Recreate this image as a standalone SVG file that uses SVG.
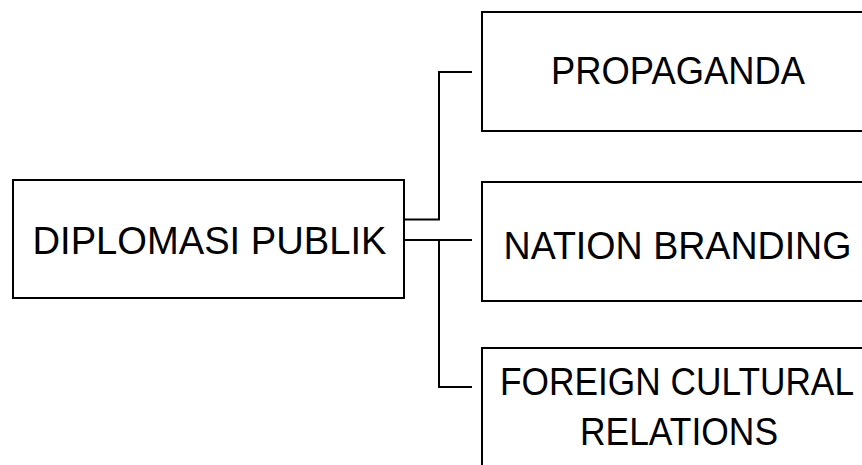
<svg xmlns="http://www.w3.org/2000/svg" width="862" height="465" viewBox="0 0 862 465">
<style>
.box{fill:#ffffff;stroke:#000000;stroke-width:2}
.lbl{font-family:"Liberation Sans",Arial,sans-serif;font-size:38px;fill:#000000;text-anchor:middle}
.con{fill:none;stroke:#000000;stroke-width:2}
</style>
<rect width="862" height="465" fill="#ffffff"/>
<g id="connectors">
<path class="con" d="M404 219.5 H439 V72 H472"/>
<path class="con" d="M404 240 H472"/>
<path class="con" d="M439 240 V387 H472"/>
</g>
<g id="node-diplomasi">
<rect class="box" x="13" y="180" width="391" height="118"/>
<text class="lbl" x="209.5" y="254" textLength="354" lengthAdjust="spacingAndGlyphs">DIPLOMASI PUBLIK</text>
</g>
<g id="node-propaganda">
<rect class="box" x="482" y="12" width="392" height="119"/>
<text class="lbl" x="678" y="84" textLength="254" lengthAdjust="spacingAndGlyphs">PROPAGANDA</text>
</g>
<g id="node-nation">
<rect class="box" x="482" y="182" width="392" height="119"/>
<text class="lbl" x="677.5" y="259" textLength="348" lengthAdjust="spacingAndGlyphs">NATION BRANDING</text>
</g>
<g id="node-foreign">
<rect class="box" x="482" y="348" width="392" height="119"/>
<text class="lbl" x="677" y="395" textLength="354" lengthAdjust="spacingAndGlyphs">FOREIGN CULTURAL</text>
<text class="lbl" x="679" y="445" textLength="198" lengthAdjust="spacingAndGlyphs">RELATIONS</text>
</g>
</svg>
